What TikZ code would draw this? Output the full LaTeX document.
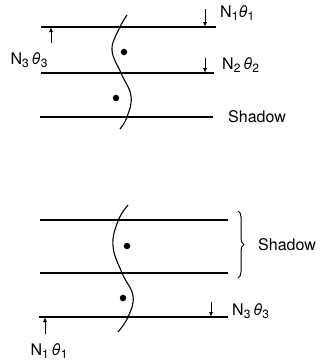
\documentclass[tikz,border=0pt]{standalone}
\usepackage{fontspec}
\setmainfont{TeX Gyre Heros}
\usepackage{tikz}
\usetikzlibrary{arrows.meta, positioning, decorations.pathreplacing}
\newcommand{\lowsub}[1]{\raisebox{-0.3ex}{\fontsize{12}{13}\selectfont #1}}

\begin{document}
\begin{tikzpicture}[
  x=1pt, y=-1pt,
  layer/.style={line width=1.3pt},
  wall/.style={line width=1.1pt},
  atom/.style={circle, fill=black, inner sep=0pt, minimum size=6.5pt},
  tag/.style={font=\fontsize{16}{18}\selectfont, inner sep=1pt},
  arrow/.style={-{Latex[length=5pt, width=4pt]}, line width=1pt},
]
\useasboundingbox (0,0) rectangle (324,364);

% upper crystal
\coordinate (a1) at (41,27);  \coordinate (b1) at (216,27);
\coordinate (a2) at (41,73);  \coordinate (b2) at (214,73);
\coordinate (a3) at (40,117); \coordinate (b3) at (213,117);
\draw[layer] (a1) -- (b1);
\draw[layer] (a2) -- (b2);
\draw[layer] (a3) -- (b3);
\draw[wall] plot[smooth, tension=0.7] coordinates
  {(127,15) (119,29) (112,50) (121,73) (131,96) (127,117) (120,129)};
\node[atom] (d1) at (124,52) {};
\node[atom] (d2) at (116,98) {};

\coordinate (t1) at (205,9);
\coordinate (t2) at (205,58);
\coordinate (t3) at (51,43);
\coordinate (f1) at (205,27);
\coordinate (f2) at (205,73);
\coordinate (f3) at (51,27);
\draw[arrow] (t1) -- (f1);
\draw[arrow] (t2) -- (f2);
\draw[arrow] (t3) -- (f3);
\node[tag, anchor=west] (n1) at (219,13) {N\lowsub{1}\textit{θ}\lowsub{1}};
\node[tag, anchor=west] (n2) at (221,65) {N\lowsub{2}\,\textit{θ}\lowsub{2}};
\node[tag] (n3) at (29,60) {N\lowsub{3}\,\textit{θ}\lowsub{3}};
\node[tag, anchor=west] (s1) at (227,117) {Shadow};

% lower crystal
\coordinate (c1) at (40,220);  \coordinate (e1) at (228,220);
\coordinate (c2) at (40,273);  \coordinate (e2) at (228,273);
\coordinate (c3) at (39,317);  \coordinate (e3) at (228,317);
\draw[layer] (c1) -- (e1);
\draw[layer] (c2) -- (e2);
\draw[layer] (c3) -- (e3);
\draw[wall] plot[smooth, tension=0.7] coordinates
  {(128,205) (118,221) (113,246) (122,273) (133,296) (128,317) (118,332)};
\node[atom] (d3) at (127,246) {};
\node[atom] (d4) at (123,298) {};

\draw[decorate, decoration={brace, amplitude=6pt}, line width=1pt]
  (238,211) -- (238,278);
\node[tag, anchor=west] (s2) at (257,245) {Shadow};

\coordinate (t4) at (211,302);
\coordinate (f4) at (211,317);
\coordinate (t5) at (45,334);
\coordinate (f5) at (45,317);
\draw[arrow] (t4) -- (f4);
\draw[arrow] (t5) -- (f5);
\node[tag, anchor=west] (n4) at (231,311) {N\lowsub{3}\,\textit{θ}\lowsub{3}};
\node[tag] (n5) at (49,351) {N\lowsub{1}\,\textit{θ}\lowsub{1}};

\end{tikzpicture}
\end{document}
